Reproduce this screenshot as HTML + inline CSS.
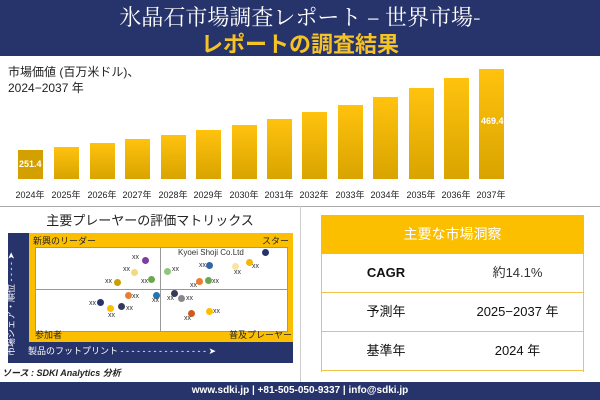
<!DOCTYPE html><html><head><meta charset="utf-8"><style>
body{margin:0;width:600px;height:400px;position:relative;overflow:hidden;background:#fff;font-family:"Liberation Sans","Noto Sans CJK JP",sans-serif}
.a{position:absolute}
.bar{position:absolute;width:25px;bottom:221px;background:linear-gradient(#ffc20e,#d9a400)}
.yr{position:absolute;top:188px;font-size:9px;width:36px;text-align:center;color:#222}
.d{position:absolute;width:7px;height:7px;border-radius:50%}
.x{position:absolute;font-size:7px;color:#333}
.row{position:absolute;left:321px;width:263px;height:38px;border-bottom:1px solid #f3c24a;font-size:13px;line-height:38px;color:#111}
.row span{position:absolute;text-align:center}
</style></head><body>
<div class="a" style="left:0;top:0;width:600px;height:56px;background:#27336b"></div>
<div class="a" style="left:0;top:1px;width:600px;text-align:center;color:#fff;font-size:22px;font-family:'Noto Serif CJK SC',serif">氷晶石市場調査レポート – 世界市場-</div>
<div class="a" style="left:0;top:27px;width:600px;text-align:center;color:#f6c324;font-size:22px;font-weight:bold;font-family:'Noto Sans CJK JP',sans-serif">レポートの調査結果</div>
<div class="a" style="left:8px;top:64px;font-size:12px;color:#222;line-height:16px">市場価値 (百万米ドル)、<br>2024−2037 年</div>
<div class="bar" style="left:18px;height:29px;background:#d4a000"></div>
<div class="bar" style="left:54px;height:32px"></div>
<div class="bar" style="left:90px;height:36px"></div>
<div class="bar" style="left:125px;height:40px"></div>
<div class="bar" style="left:161px;height:44px"></div>
<div class="bar" style="left:196px;height:49px"></div>
<div class="bar" style="left:232px;height:54px"></div>
<div class="bar" style="left:267px;height:60px"></div>
<div class="bar" style="left:302px;height:67px"></div>
<div class="bar" style="left:338px;height:74px"></div>
<div class="bar" style="left:373px;height:82px"></div>
<div class="bar" style="left:409px;height:91px"></div>
<div class="bar" style="left:444px;height:101px"></div>
<div class="bar" style="left:479px;height:110px"></div>
<div class="a" style="left:19px;top:159px;font-size:9px;color:#fff;font-weight:bold">251.4</div>
<div class="a" style="left:481px;top:116px;font-size:9px;color:#fff;font-weight:bold">469.4</div>
<div class="yr" style="left:12px">2024年</div><div class="yr" style="left:48px">2025年</div><div class="yr" style="left:84px">2026年</div><div class="yr" style="left:119px">2027年</div><div class="yr" style="left:155px">2028年</div><div class="yr" style="left:190px">2029年</div><div class="yr" style="left:226px">2030年</div><div class="yr" style="left:261px">2031年</div><div class="yr" style="left:296px">2032年</div><div class="yr" style="left:332px">2033年</div><div class="yr" style="left:367px">2034年</div><div class="yr" style="left:403px">2035年</div><div class="yr" style="left:438px">2036年</div><div class="yr" style="left:473px">2037年</div>
<div class="a" style="left:0;top:206px;width:600px;height:1px;background:#aaa"></div>
<div class="a" style="left:0;top:210px;width:300px;text-align:center;font-size:13px;color:#222">主要プレーヤーの評価マトリックス</div>
<div class="a" style="left:8px;top:233px;width:285px;height:130px;background:#27336b"></div>
<div class="a" style="left:29px;top:233px;width:264px;height:109px;background:#fcbf00"></div>
<div class="a" style="left:35px;top:247px;width:251px;height:83px;background:#fff;border:1px solid #999"></div>
<div class="a" style="left:160px;top:247px;width:1px;height:84px;background:#999"></div>
<div class="a" style="left:35px;top:289px;width:252px;height:1px;background:#999"></div>
<div class="a" style="left:33px;top:234px;font-size:9px;color:#222">新興のリーダー</div>
<div class="a" style="left:262px;top:234px;font-size:9px;color:#222">スター</div>
<div class="a" style="left:35px;top:328px;font-size:9px;color:#222">参加者</div>
<div class="a" style="left:229px;top:328px;font-size:9px;color:#222">普及プレーヤー</div>
<div class="a" style="left:28px;top:344px;font-size:9px;color:#fff">製品のフットプリント - - - - - - - - - - - - - - - - ➤</div>
<div class="a" style="left:4px;top:356px;font-size:9px;color:#fff;transform:rotate(-90deg);transform-origin:0 0;white-space:nowrap">市場シェア・順位 - - - - ➤</div>
<div class="a" style="left:178px;top:248px;font-size:8px;color:#333">Kyoei Shoji Co.Ltd</div>
<div class="d" style="left:262px;top:249px;background:#27336b"></div>
<div class="d" style="left:142px;top:257px;background:#7b3fa0"></div>
<div class="d" style="left:131px;top:269px;background:#f0dc80"></div>
<div class="d" style="left:114px;top:279px;background:#c8a000"></div>
<div class="d" style="left:148px;top:276px;background:#6aa84f"></div>
<div class="d" style="left:164px;top:268px;background:#93c47d"></div>
<div class="d" style="left:206px;top:262px;background:#3465a4"></div>
<div class="d" style="left:232px;top:263px;background:#f8e6a0"></div>
<div class="d" style="left:246px;top:259px;background:#f5b800"></div>
<div class="d" style="left:196px;top:278px;background:#ea7d33"></div>
<div class="d" style="left:205px;top:277px;background:#6aa84f"></div>
<div class="d" style="left:125px;top:292px;background:#ea7d33"></div>
<div class="d" style="left:153px;top:292px;background:#1f77b4"></div>
<div class="d" style="left:97px;top:299px;background:#27336b"></div>
<div class="d" style="left:107px;top:305px;background:#fcbf00"></div>
<div class="d" style="left:118px;top:303px;background:#333a5a"></div>
<div class="d" style="left:171px;top:290px;background:#333a5a"></div>
<div class="d" style="left:178px;top:295px;background:#888"></div>
<div class="d" style="left:188px;top:310px;background:#d05a1a"></div>
<div class="d" style="left:206px;top:308px;background:#fcbf00"></div>
<div class="x" style="left:132px;top:254px">xx</div><div class="x" style="left:123px;top:266px">xx</div><div class="x" style="left:105px;top:278px">xx</div><div class="x" style="left:141px;top:278px">xx</div><div class="x" style="left:172px;top:266px">xx</div><div class="x" style="left:199px;top:262px">xx</div><div class="x" style="left:234px;top:269px">xx</div><div class="x" style="left:252px;top:263px">xx</div><div class="x" style="left:190px;top:282px">xx</div><div class="x" style="left:212px;top:278px">xx</div><div class="x" style="left:132px;top:293px">xx</div><div class="x" style="left:152px;top:297px">xx</div><div class="x" style="left:89px;top:300px">xx</div><div class="x" style="left:108px;top:312px">xx</div><div class="x" style="left:126px;top:305px">xx</div><div class="x" style="left:167px;top:295px">xx</div><div class="x" style="left:186px;top:295px">xx</div><div class="x" style="left:184px;top:315px">xx</div><div class="x" style="left:213px;top:308px">xx</div>
<div class="a" style="left:2px;top:366px;font-size:9px;font-style:italic;font-weight:bold;color:#222">ソース : SDKI Analytics 分析</div>
<div class="a" style="left:300px;top:206px;width:1px;height:176px;background:#ccc"></div>
<div class="a" style="left:321px;top:215px;width:263px;height:39px;background:#fcbf00;color:#fff;font-size:14px;text-align:center;line-height:39px">主要な市場洞察</div>
<div class="a" style="left:321px;top:254px;width:1px;height:118px;background:#f3c24a"></div>
<div class="a" style="left:583px;top:254px;width:1px;height:118px;background:#f3c24a"></div>
<div class="row" style="top:254px"><span style="left:0;width:130px;font-weight:bold">CAGR</span><span style="left:130px;width:133px;color:#333">約14.1%</span></div>
<div class="row" style="top:293px"><span style="left:0;width:130px">予測年</span><span style="left:130px;width:133px">2025−2037 年</span></div>
<div class="row" style="top:332px"><span style="left:0;width:130px">基準年</span><span style="left:130px;width:133px">2024 年</span></div>
<div class="a" style="left:0;top:382px;width:600px;height:18px;background:#27336b;color:#fff;font-size:10px;font-weight:bold;text-align:center;line-height:18px">www.sdki.jp | +81-505-050-9337 | info@sdki.jp</div>
</body></html>
